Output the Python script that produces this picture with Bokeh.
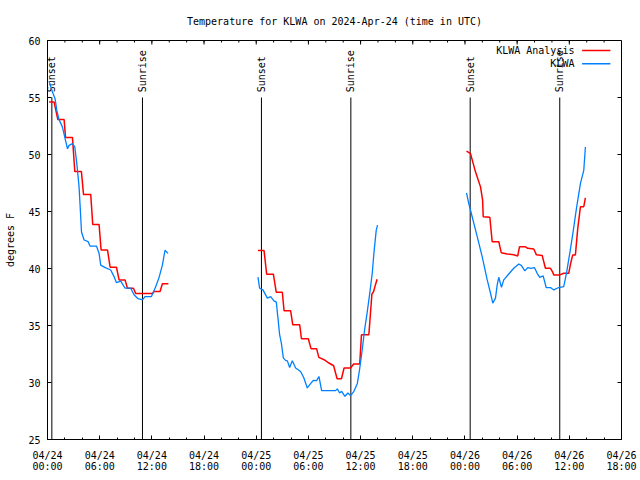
from math import pi
from bokeh.plotting import figure
from bokeh.models import Range1d, FixedTicker, ColumnDataSource
from bokeh.core.properties import value
from bokeh.embed import file_html
from bokeh.resources import INLINE

# time axis: hours since 2024-04-24 00:00 UTC
tick_hours = [0, 6, 12, 18, 24, 30, 36, 42, 48, 54, 60, 66]
tick_labels = ["04/24\n00:00", "04/24\n06:00", "04/24\n12:00", "04/24\n18:00",
               "04/25\n00:00", "04/25\n06:00", "04/25\n12:00", "04/25\n18:00",
               "04/26\n00:00", "04/26\n06:00", "04/26\n12:00", "04/26\n18:00"]
minor_hours = list(range(0, 67, 2))
y_ticks = [25, 30, 35, 40, 45, 50, 55, 60]

# sunrise / sunset markers
sun_names = ["Sunset", "Sunrise", "Sunset", "Sunrise", "Sunset", "Sunrise"]
sun_hours = [0.5, 10.92, 24.6, 34.88, 48.6, 58.9]

# KLWA Analysis (red)
anal_d1_t = [0.18, 0.76, 1.19, 1.91, 2.07, 2.87, 3.14, 3.9, 4.14, 4.97, 5.2, 5.93, 6.16, 6.9,
             7.2, 7.93, 8.23, 8.92, 9.19, 9.88, 10.15, 12.06, 12.25, 12.94, 13.21, 13.9]
anal_d1_v = [54.6, 54.6, 53.06, 53.06, 51.5, 51.5, 48.5, 48.5, 46.5, 46.5, 43.87, 43.87, 41.63, 41.63,
             40.11, 40.11, 39.0, 39.0, 38.27, 38.27, 37.8, 37.8, 37.98, 37.98, 38.67, 38.67]
anal_d2_t = [24.2, 24.9, 25.2, 25.97, 26.3, 27.0, 27.2, 27.96, 28.2, 29.0, 29.2, 29.99, 30.3, 30.94,
             31.2, 31.8, 32.36, 32.9, 33.3, 33.8, 34.1, 34.85, 35.2, 35.9, 36.1, 36.95, 37.15, 37.3,
             37.5, 37.7, 37.9]
anal_d2_v = [41.57, 41.57, 39.5, 39.5, 37.92, 37.92, 36.29, 36.29, 35.06, 35.06, 33.84, 33.84, 32.97, 32.97,
             32.2, 32.0, 31.71, 31.47, 30.33, 30.33, 31.27, 31.27, 31.62, 31.62, 34.19, 34.19, 36.23, 37.75,
             37.98, 38.56, 39.06]
anal_d3_t = [48.18, 48.64, 49.21, 49.79, 50.03, 50.1, 50.86, 51.13, 51.89, 52.17, 52.86, 53.61, 54.07,
             54.27, 54.96, 55.22, 55.91, 56.22, 56.88, 57.25, 57.83, 58.06, 58.21, 58.9, 59.36, 59.93,
             60.13, 60.39, 60.7, 60.97, 61.28, 61.66, 61.85]
anal_d3_v = [50.29, 50.08, 48.48, 47.16, 46.0, 44.54, 44.5, 42.35, 42.35, 41.39, 41.27, 41.2, 41.1,
             41.9, 41.9, 41.77, 41.71, 41.2, 41.15, 40.02, 40.02, 39.73, 39.44, 39.44, 39.58, 39.58,
             40.37, 41.19, 41.19, 43.52, 45.42, 45.42, 46.2]

# KLWA observations (blue)
obs_d1_t = [0.18, 0.57, 0.87, 1.07, 1.33, 1.72, 1.99, 2.30, 2.48, 2.87, 3.14, 3.37, 3.63, 3.75, 3.91,
            4.21, 4.67, 4.89, 5.63, 5.93, 6.12, 6.58, 7.27, 7.65, 7.93, 8.42, 8.92, 9.57, 9.95, 10.41,
            10.92, 11.21, 11.95, 12.44, 12.82, 13.21, 13.51, 13.86]
obs_d1_v = [56.44, 55.48, 54.9, 53.87, 53.06, 52.4, 51.5, 50.5, 50.8, 50.95, 50.66, 49.2, 47.16, 45.5, 43.2,
            42.5, 42.35, 41.97, 41.97, 41.33, 40.3, 40.1, 39.87, 39.29, 38.76, 38.9, 38.27, 38.27, 37.7, 37.35,
            37.25, 37.54, 37.54, 38.4, 39.2, 40.3, 41.6, 41.33]
obs_d2_t = [24.2, 24.39, 24.77, 25.28, 25.66, 26.04, 26.31, 26.5, 26.69, 26.89, 27.12, 27.38, 27.58, 27.84,
            28.15, 28.53, 29.1, 29.48, 29.87, 30.25, 30.56, 30.94, 31.21, 31.52, 33.13, 33.32, 33.59, 33.82,
            34.2, 34.54, 34.85, 35.23, 35.62, 35.88, 36.19, 36.46, 36.77, 37.03, 37.34, 37.53, 37.8, 37.95]
obs_d2_v = [39.24, 38.27, 38.12, 37.4, 37.54, 37.16, 37.05, 35.65, 34.19, 33.45, 32.14, 31.94, 31.9, 31.32,
            31.9, 31.27, 30.97, 30.39, 29.52, 29.9, 30.19, 30.16, 30.53, 29.29, 29.29, 29.44, 29.08, 29.23,
            28.79, 29.08, 28.85, 29.23, 29.9, 31.12, 32.87, 34.62, 36.22, 37.68, 39.58, 41.33, 43.37, 43.8]
obs_d3_t = [48.18, 48.44, 48.83, 49.41, 49.98, 50.56, 50.94, 51.2, 51.51, 51.71, 51.89, 52.2, 52.46, 53.04,
            53.61, 54.19, 54.5, 54.88, 55.22, 55.61, 55.99, 56.3, 56.6, 56.99, 57.34, 57.83, 58.21, 58.78,
            59.36, 59.67, 60.05, 60.44, 60.82, 61.28, 61.66, 61.85]
obs_d3_v = [46.64, 45.7, 44.54, 42.79, 41.04, 39.0, 37.83, 36.96, 37.4, 38.56, 39.23, 38.35, 39.0, 39.52,
            40.02, 40.4, 40.25, 39.79, 40.08, 40.02, 40.08, 39.58, 39.23, 39.35, 38.33, 38.33, 38.12, 38.33,
            38.42, 39.58, 41.33, 43.23, 45.27, 47.46, 48.6, 50.66]

series_names = ["KLWA Analysis", "KLWA"]
series_colors = ["#ff0000", "#0080ff"]

FONT = "DejaVu Sans Mono"
FS = "10px"

p = figure(width=640, height=480, x_range=Range1d(0, 66), y_range=Range1d(25, 60),
           output_backend="svg", toolbar_location=None,
           min_border_left=47, min_border_right=19, min_border_top=40, min_border_bottom=41,
           title="Temperature for KLWA on 2024-Apr-24 (time in UTC)")
p.title.text_font = FONT
p.title.text_font_size = FS
p.title.text_font_style = "normal"
p.title.align = "center"
p.title.text_color = "black"
p.title.standoff = 27
p.xgrid.visible = False
p.ygrid.visible = False
p.outline_line_color = "black"
p.outline_line_width = 1
p.background_fill_color = "white"
p.border_fill_color = "white"

xa = p.xaxis[0]
xa.ticker = FixedTicker(ticks=tick_hours, minor_ticks=minor_hours)
xa.major_label_overrides = {h: l for h, l in zip(tick_hours, tick_labels)}
xa.major_label_text_line_height = 1.0
ya = p.yaxis[0]
ya.ticker = FixedTicker(ticks=y_ticks, minor_ticks=[])
ya.axis_label = "degrees F"
for ax in (xa, ya):
    ax.major_label_text_font = FONT
    ax.major_label_text_font_size = FS
    ax.major_label_text_color = "black"
    ax.axis_label_text_font = FONT
    ax.axis_label_text_font_size = FS
    ax.axis_label_text_font_style = "normal"
    ax.axis_label_text_color = "black"
    ax.major_tick_in = 4
    ax.major_tick_out = 0
    ax.minor_tick_in = 2
    ax.minor_tick_out = 0
    ax.axis_line_color = "black"
    ax.major_tick_line_color = "black"
    ax.minor_tick_line_color = "black"
xa.major_label_standoff = 10
ya.major_label_standoff = 7
ya.axis_label_standoff = 9

# mirrored ticks on the top and right frame edges (no labels)
n_maj, n_min, n_y = len(tick_hours), len(minor_hours), len(y_ticks)
p.ray(x=tick_hours, y=[60] * n_maj, length=4, length_units="screen", angle=-pi / 2,
      line_color="black", line_width=1)
p.ray(x=minor_hours, y=[60] * n_min, length=2, length_units="screen", angle=-pi / 2,
      line_color="black", line_width=1)
p.ray(x=[66] * n_y, y=y_ticks, length=4, length_units="screen", angle=pi,
      line_color="black", line_width=1)

# sunrise / sunset lines and labels
sun_src = ColumnDataSource(dict(x=sun_hours, name=sun_names,
                                y0=[25] * len(sun_hours), y1=[55] * len(sun_hours),
                                ty=[55.45] * len(sun_hours)))
p.segment(x0="x", y0="y0", x1="x", y1="y1", source=sun_src, line_color="black", line_width=1)
p.text(x="x", y="ty", text="name", source=sun_src, angle=pi / 2,
       text_align="left", text_baseline="middle",
       text_font=value(FONT), text_font_size=FS, text_color="black")

# data
for t, v in ((anal_d1_t, anal_d1_v), (anal_d2_t, anal_d2_v), (anal_d3_t, anal_d3_v)):
    p.line(t, v, line_color=series_colors[0], line_width=1.5)
for t, v in ((obs_d1_t, obs_d1_v), (obs_d2_t, obs_d2_v), (obs_d3_t, obs_d3_v)):
    p.line(t, v, line_color=series_colors[1], line_width=1.3)

# legend (text left of sample line, as in reference)
leg_y = [59.12, 57.96]
p.text(x=[60.59, 60.59], y=leg_y, text=series_names, text_align="right", text_baseline="middle",
       text_font=value(FONT), text_font_size=FS, text_color="black")
p.segment(x0=[61.47, 61.47], y0=leg_y, x1=[64.72, 64.72], y1=leg_y,
          line_color=series_colors, line_width=1.5)

open("out.html", "w").write(file_html(p, INLINE))
